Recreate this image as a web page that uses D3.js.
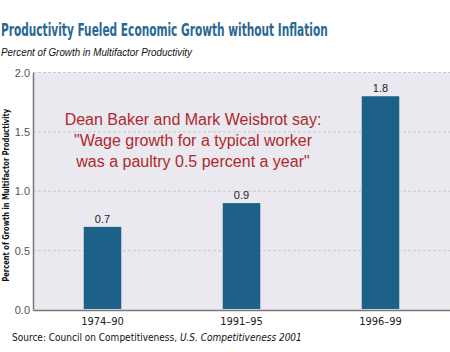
<!DOCTYPE html>
<html>
<head>
<meta charset="utf-8">
<script src="https://cdn.jsdelivr.net/npm/d3@7"></script>
<style>
  body { margin: 0; background: #fff; }
  #chart { width: 450px; height: 352px; }
</style>
</head>
<body>
<div id="chart"></div>
<script>
// data
const periods = ['1974–90', '1991–95', '1996–99'];
const growth = [0.7, 0.9, 1.8];
const yTicks = [0.0, 0.5, 1.0, 1.5, 2.0];
const quoteLines = [
  'Dean Baker and Mark Weisbrot say:',
  '"Wage growth for a typical worker',
  'was a paultry 0.5 percent a year"'
];

const width = 450, height = 352;
const margin = {top: 72.5, right: 0, bottom: 42, left: 33};

const svg = d3.select('#chart').append('svg')
  .attr('width', width)
  .attr('height', height);

const x = d3.scaleBand()
  .domain(periods)
  .range([margin.left, width - margin.right])
  .paddingInner(0.73)
  .paddingOuter(0.365);

const y = d3.scaleLinear()
  .domain([0, 2])
  .range([height - margin.bottom, margin.top]);

// title: squeeze horizontally to the width seen in the picture
const title = svg.append('text')
  .attr('x', 0).attr('y', 0)
  .attr('font-family', '"Liberation Sans Narrow", "DejaVu Sans Condensed", sans-serif')
  .attr('font-weight', 'bold')
  .attr('font-size', 17)
  .attr('fill', '#2a6893')
  .text('Productivity Fueled Economic Growth without Inflation');
const titleW = title.node().getComputedTextLength();
title.attr('transform', `translate(1,36) scale(${327 / titleW},1)`);

svg.append('text')
  .attr('x', 1).attr('y', 56)
  .attr('font-family', '"Liberation Sans Narrow", "Liberation Sans", sans-serif')
  .attr('font-style', 'italic')
  .attr('font-size', 11)
  .attr('fill', '#111')
  .attr('textLength', 191)
  .attr('lengthAdjust', 'spacingAndGlyphs')
  .text('Percent of Growth in Multifactor Productivity');

// plot background
svg.append('rect')
  .attr('x', margin.left)
  .attr('y', y(2))
  .attr('width', width - margin.left - margin.right)
  .attr('height', y(0) - y(2))
  .attr('fill', '#e9e9ef');

// gridlines
svg.append('g')
  .selectAll('line')
  .data(yTicks.slice(1))
  .join('line')
    .attr('x1', margin.left)
    .attr('x2', width)
    .attr('y1', d => y(d))
    .attr('y2', d => y(d))
    .attr('stroke', '#c9c9cf')
    .attr('stroke-dasharray', '3,2');

// y axis
const yAxis = svg.append('g')
  .attr('transform', `translate(${margin.left},0)`)
  .call(d3.axisLeft(y).tickValues(yTicks).tickFormat(d3.format('.1f')).tickSize(0).tickPadding(3));
yAxis.select('.domain').attr('stroke', '#777').attr('stroke-width', 1.5);
yAxis.selectAll('text')
  .attr('font-family', '"Liberation Sans", Arial, sans-serif')
  .attr('font-size', 11)
  .attr('fill', '#555');

// x axis
const xAxis = svg.append('g')
  .attr('transform', `translate(0,${y(0)})`)
  .call(d3.axisBottom(x).tickSize(0).tickPadding(7));
xAxis.select('.domain').attr('stroke', '#777').attr('stroke-width', 1.5);
xAxis.selectAll('text')
  .attr('font-family', '"DejaVu Sans Condensed", "DejaVu Sans", sans-serif')
  .attr('font-size', 11)
  .attr('fill', '#222');

// y axis title
svg.append('text')
  .attr('transform', `translate(9,${(y(0) + y(2)) / 2 + 4}) rotate(-90)`)
  .attr('text-anchor', 'middle')
  .attr('font-family', '"Liberation Sans Narrow", "DejaVu Sans Condensed", sans-serif')
  .attr('font-weight', 'bold')
  .attr('font-size', 9)
  .attr('fill', '#111')
  .attr('textLength', 173)
  .attr('lengthAdjust', 'spacingAndGlyphs')
  .text('Percent of Growth in Multifactor Productivity');

// bars
svg.append('g')
  .selectAll('rect')
  .data(growth)
  .join('rect')
    .attr('x', (d, i) => x(periods[i]))
    .attr('y', d => y(d))
    .attr('width', x.bandwidth())
    .attr('height', d => y(0) - y(d) - 1)
    .attr('fill', '#1d6189');

// value labels
svg.append('g')
  .selectAll('text')
  .data(growth)
  .join('text')
    .attr('x', (d, i) => x(periods[i]) + x.bandwidth() / 2)
    .attr('y', d => y(d) - 4)
    .attr('text-anchor', 'middle')
    .attr('font-family', '"Liberation Sans", Arial, sans-serif')
    .attr('font-size', 11)
    .attr('fill', '#222')
    .text(d => d3.format('.1f')(d));

// quote
svg.append('g')
  .selectAll('text')
  .data(quoteLines)
  .join('text')
    .attr('x', 193)
    .attr('y', (d, i) => 124.5 + i * 21)
    .attr('text-anchor', 'middle')
    .attr('font-family', '"Liberation Sans", Arial, sans-serif')
    .attr('font-size', 16)
    .attr('fill', '#b0282c')
    .text(d => d);

// source
const source = svg.append('text')
  .attr('x', 12).attr('y', 341)
  .attr('font-family', '"DejaVu Sans Condensed", "DejaVu Sans", sans-serif')
  .attr('font-size', 10)
  .attr('fill', '#111');
source.append('tspan').text('Source:  Council on Competitiveness, ');
source.append('tspan').attr('font-style', 'italic').text('U.S. Competitiveness 2001');
</script>
</body>
</html>
